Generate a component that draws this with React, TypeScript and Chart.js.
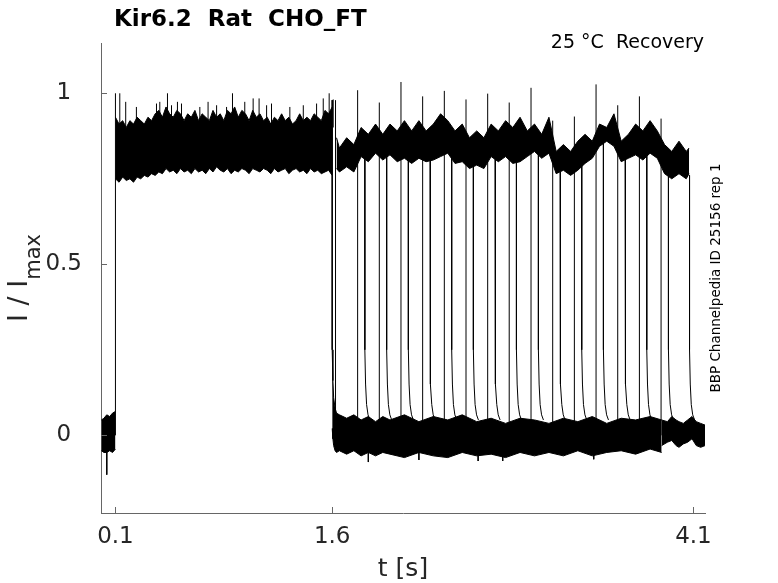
import { useEffect, useRef } from 'react';
import { Chart, registerables } from 'chart.js';

Chart.register(...registerables);

// current trace, normalised to I / Imax, time in s
// noisy stretches are kept as upper / lower envelopes

const preT = [0.003, 0.02, 0.04, 0.06, 0.08, 0.1];
const preHi = [0.045, 0.05, 0.06, 0.055, 0.065, 0.07];
const preLo = [-0.045, -0.05, -0.05, -0.045, -0.05, -0.04];

const openT = [
  0.1, 0.125, 0.15, 0.175, 0.2, 0.225, 0.25, 0.275, 0.3, 0.325,
  0.35, 0.375, 0.4, 0.425, 0.45, 0.475, 0.5, 0.525, 0.55, 0.575,
  0.6, 0.625, 0.65, 0.675, 0.7, 0.725, 0.75, 0.775, 0.8, 0.825,
  0.85, 0.875, 0.9, 0.925, 0.95, 0.975, 1.0, 1.025, 1.05, 1.075,
  1.1, 1.125, 1.15, 1.175, 1.2, 1.225, 1.25, 1.275, 1.3, 1.325,
  1.35, 1.375, 1.4, 1.425, 1.45, 1.475, 1.5, 1.525, 1.55, 1.575,
  1.6,
];
const openHi = [
  0.93, 0.91, 0.92, 0.9, 0.92, 0.91, 0.93, 0.92, 0.91, 0.93,
  0.92, 0.94, 0.95, 0.93, 0.96, 0.94, 0.93, 0.95, 0.94, 0.92,
  0.94, 0.93, 0.95, 0.92, 0.94, 0.93, 0.92, 0.95, 0.93, 0.94,
  0.92, 0.95, 0.94, 0.96, 0.93, 0.95, 0.94, 0.92, 0.95, 0.93,
  0.94, 0.92, 0.93, 0.91, 0.93, 0.92, 0.94, 0.92, 0.93, 0.91,
  0.92, 0.94, 0.92, 0.93, 0.92, 0.94, 0.93, 0.92, 0.95, 0.94,
  0.96,
];
const openLo = [
  0.75, 0.74, 0.755, 0.745, 0.75, 0.74, 0.755, 0.75, 0.76, 0.755,
  0.765, 0.76, 0.77, 0.765, 0.78, 0.77, 0.775, 0.765, 0.78, 0.77,
  0.775, 0.765, 0.78, 0.77, 0.775, 0.765, 0.78, 0.77, 0.785, 0.775,
  0.77, 0.78, 0.765, 0.775, 0.77, 0.78, 0.775, 0.765, 0.78, 0.775,
  0.77, 0.78, 0.775, 0.765, 0.78, 0.77, 0.775, 0.78, 0.765, 0.775,
  0.78, 0.77, 0.775, 0.765, 0.78, 0.77, 0.775, 0.765, 0.77, 0.775,
  0.76,
];

const upT = [
  1.63, 1.65, 1.7, 1.75, 1.8, 1.85, 1.9, 1.95, 2.0, 2.05,
  2.1, 2.15, 2.2, 2.25, 2.3, 2.35, 2.4, 2.45, 2.5, 2.55,
  2.6, 2.65, 2.7, 2.75, 2.8, 2.85, 2.9, 2.95, 3.0, 3.05,
  3.1, 3.15, 3.2, 3.25, 3.3, 3.35, 3.4, 3.45, 3.5, 3.55,
  3.6, 3.65, 3.7, 3.75, 3.8, 3.85, 3.9, 3.95, 4.0, 4.05,
  4.07,
];
const upHi = [
  0.87, 0.84, 0.87, 0.85, 0.9, 0.88, 0.91, 0.88, 0.91, 0.89,
  0.92, 0.89, 0.92, 0.89, 0.91, 0.94, 0.92, 0.89, 0.91, 0.87,
  0.89, 0.87, 0.91, 0.89, 0.92, 0.9, 0.93, 0.89, 0.91, 0.88,
  0.93, 0.83, 0.85, 0.83, 0.86, 0.88, 0.86, 0.91, 0.9, 0.94,
  0.86, 0.88, 0.91, 0.89, 0.92, 0.89, 0.85, 0.83, 0.86, 0.83,
  0.84,
];
const upLo = [
  0.78, 0.77, 0.785, 0.77, 0.815, 0.8, 0.825, 0.805, 0.82, 0.8,
  0.81, 0.795, 0.81, 0.8, 0.805, 0.815, 0.825, 0.795, 0.8, 0.78,
  0.79, 0.78, 0.815, 0.8, 0.815, 0.795, 0.8, 0.815, 0.83, 0.81,
  0.825, 0.765, 0.775, 0.76, 0.775, 0.795, 0.81, 0.845, 0.86, 0.845,
  0.8, 0.81, 0.82, 0.805, 0.825, 0.81, 0.765, 0.75, 0.765, 0.75,
  0.765,
];

const lowT = [
  1.6, 1.605, 1.61, 1.62, 1.63, 1.65, 1.7, 1.75, 1.8, 1.85,
  1.9, 1.95, 2.0, 2.1, 2.2, 2.3, 2.4, 2.5, 2.6, 2.7,
  2.8, 2.9, 3.0, 3.1, 3.2, 3.3, 3.4, 3.5, 3.6, 3.7,
  3.8, 3.88,
];
const lowHi = [
  0.25, 0.16, 0.11, 0.08, 0.065, 0.06, 0.05, 0.06, 0.045, 0.055,
  0.04, 0.055, 0.045, 0.06, 0.04, 0.055, 0.045, 0.06, 0.04, 0.05,
  0.035, 0.05, 0.045, 0.035, 0.05, 0.04, 0.055, 0.035, 0.05, 0.045,
  0.055, 0.045,
];
const lowLo = [
  0.02, -0.01, -0.03, -0.045, -0.05, -0.045, -0.055, -0.045, -0.06, -0.05,
  -0.06, -0.05, -0.055, -0.065, -0.05, -0.06, -0.065, -0.05, -0.06, -0.055,
  -0.065, -0.05, -0.06, -0.05, -0.06, -0.045, -0.06, -0.05, -0.045, -0.055,
  -0.04, -0.05,
];

const endT = [3.88, 3.92, 3.95, 3.98, 4.0, 4.03, 4.06, 4.09, 4.12, 4.15, 4.18];
const endHi = [0.045, 0.04, 0.055, 0.045, 0.04, 0.035, 0.045, 0.055, 0.04, 0.035, 0.03];
const endLo = [-0.03, -0.02, -0.015, -0.03, -0.035, -0.025, -0.02, -0.01, -0.03, -0.035, -0.03];

// step on and off of the long pulse
const stepT = [0.1, 1.6];
const stepFrom = [0.0, 0.98];
const stepTo = [1.0, 0.25];

// short noise spikes above the open level
const spikeT = [
  0.13, 0.171, 0.245, 0.384, 0.407, 0.46, 0.488, 0.529, 0.557, 0.684, 0.741, 0.8, 0.869,
  0.91, 0.995, 1.053, 1.094, 1.146, 1.18, 1.307, 1.4, 1.492, 1.538, 1.579, 1.607,
];
const spikePeak = [
  1.0, 0.975, 0.96, 0.97, 0.975, 1.0, 0.965, 0.975, 0.97, 0.96, 0.975, 0.965, 0.96,
  1.0, 0.975, 0.985, 0.985, 0.965, 0.97, 0.96, 0.965, 0.97, 0.985, 1.0, 0.982,
];

// dips below the closed level
const dipT = [0.04, 1.85, 2.2, 2.61, 2.78, 3.41];
const dipY = [-0.115, -0.078, -0.072, -0.075, -0.075, -0.07];

// recovery test pulses
const onsetT = [1.623, 1.776, 1.926, 2.076, 2.226, 2.376, 2.526, 2.676, 2.825, 2.976, 3.126, 3.276, 3.426, 3.576, 3.726, 3.876];
const onsetPeak = [0.98, 1.009, 0.973, 1.033, 0.991, 1.007, 0.982, 0.999, 0.973, 1.016, 0.92, 0.932, 1.026, 0.965, 0.991, 0.926];
const offsetT = [1.826, 1.977, 2.127, 2.277, 2.427, 2.577, 2.727, 2.875, 3.027, 3.177, 3.327, 3.477, 3.627, 3.777, 3.927, 4.073];
const offsetFrom = [0.82, 0.82, 0.81, 0.81, 0.81, 0.79, 0.82, 0.8, 0.83, 0.77, 0.8, 0.86, 0.81, 0.82, 0.76, 0.76];
// tail after each pulse end
const tailDt = [0, 0.005, 0.012, 0.022, 0.035];
const tailY = [0.25, 0.15, 0.09, 0.06, 0.045];

const xTicks = [0.1, 1.6, 4.1];
const yTicks = [0, 0.5, 1];

const AXIS = '#666666';
const TEXT = '#262626';
const FONT = '"DejaVu Sans", sans-serif';

const pts = (t: number[], v: number[]) => t.map((x, i) => ({ x, y: v[i] }));

const band = (t: number[], hi: number[], lo: number[]) => [
  { data: pts(t, hi), fill: '+1', borderColor: '#000', backgroundColor: '#000', borderWidth: 1 },
  { data: pts(t, lo), fill: false, borderColor: '#000', borderWidth: 1 },
];

const strokes = () => {
  const out: { x: number; y: number | null }[] = [];
  const seg = (p: { x: number; y: number }[]) => {
    out.push(...p, { x: p[p.length - 1].x, y: null });
  };
  stepT.forEach((t, i) => seg([{ x: t, y: stepFrom[i] }, { x: t, y: stepTo[i] }]));
  spikeT.forEach((t, i) => seg([{ x: t, y: 0.9 }, { x: t, y: spikePeak[i] }]));
  dipT.forEach((t, i) => seg([{ x: t, y: 0 }, { x: t, y: dipY[i] }]));
  onsetT.forEach((t, i) => seg([{ x: t, y: 0 }, { x: t, y: onsetPeak[i] }]));
  offsetT.forEach((t, i) =>
    seg([{ x: t, y: offsetFrom[i] }, ...tailDt.map((d, k) => ({ x: t + d, y: tailY[k] }))]),
  );
  return out;
};

const decor = {
  id: 'decor',
  afterDraw(chart: Chart) {
    const { ctx, chartArea: a } = chart;
    const x = chart.scales.x;
    const y = chart.scales.y;
    ctx.save();
    ctx.strokeStyle = AXIS;
    ctx.lineWidth = 1;
    ctx.beginPath();
    xTicks.forEach((v) => {
      const px = Math.round(x.getPixelForValue(v)) + 0.5;
      ctx.moveTo(px, a.bottom);
      ctx.lineTo(px, a.bottom - 6);
    });
    yTicks.forEach((v) => {
      const py = Math.round(y.getPixelForValue(v)) + 0.5;
      ctx.moveTo(a.left, py);
      ctx.lineTo(a.left + 6, py);
    });
    ctx.stroke();

    ctx.fillStyle = '#000';
    ctx.textBaseline = 'alphabetic';
    ctx.textAlign = 'left';
    ctx.font = `bold 23px ${FONT}`;
    ctx.fillText('Kir6.2  Rat  CHO_FT', 114, 26);

    ctx.textAlign = 'right';
    ctx.font = `19px ${FONT}`;
    ctx.fillText('25 °C  Recovery', 704, 48);

    ctx.fillStyle = TEXT;
    ctx.textAlign = 'center';
    ctx.font = `25px ${FONT}`;
    ctx.fillText('t [s]', (a.left + a.right) / 2, 576);

    // y title with subscript
    ctx.save();
    ctx.translate(27, 322);
    ctx.rotate(-Math.PI / 2);
    ctx.textAlign = 'left';
    ctx.font = `27px ${FONT}`;
    ctx.fillText('I / I', 0, 0);
    const w = ctx.measureText('I / I').width;
    ctx.font = `21px ${FONT}`;
    ctx.fillText('max', w, 13);
    ctx.restore();

    ctx.save();
    ctx.translate(720, (a.top + a.bottom) / 2);
    ctx.rotate(-Math.PI / 2);
    ctx.fillStyle = '#000';
    ctx.textAlign = 'center';
    ctx.font = `13.5px ${FONT}`;
    ctx.fillText('BBP Channelpedia ID 25156 rep 1', 0, 0);
    ctx.restore();
    ctx.restore();
  },
};

export default function App() {
  const canvasRef = useRef<HTMLCanvasElement>(null);

  useEffect(() => {
    const ctx = canvasRef.current!.getContext('2d')!;
    const chart = new Chart(ctx, {
      type: 'line',
      data: {
        datasets: [
          ...band(preT, preHi, preLo),
          ...band(openT, openHi, openLo),
          ...band(upT, upHi, upLo),
          ...band(lowT, lowHi, lowLo),
          ...band(endT, endHi, endLo),
          { data: strokes(), fill: false, borderColor: '#000', borderWidth: 1, spanGaps: false },
        ] as any,
      },
      options: {
        animation: false,
        responsive: true,
        maintainAspectRatio: false,
        layout: { padding: { left: 0, top: 43, right: 73, bottom: 0 } },
        elements: { point: { radius: 0, hoverRadius: 0 }, line: { tension: 0 } },
        plugins: { legend: { display: false }, tooltip: { enabled: false } },
        events: [],
        scales: {
          x: {
            type: 'linear',
            min: 0,
            max: 4.18,
            grid: { display: false, drawTicks: false },
            border: { display: true, color: AXIS, width: 1 },
            afterBuildTicks: (s: any) => {
              s.ticks = xTicks.map((value) => ({ value }));
            },
            afterFit: (s: any) => {
              s.height = 70;
            },
            ticks: {
              color: TEXT,
              font: { family: FONT, size: 23 },
              padding: 10,
              maxRotation: 0,
              autoSkip: false,
              callback: (v: any) => String(v),
            },
          },
          y: {
            type: 'linear',
            min: -0.227,
            max: 1.147,
            grid: { display: false, drawTicks: false },
            border: { display: true, color: AXIS, width: 1 },
            afterBuildTicks: (s: any) => {
              s.ticks = yTicks.map((value) => ({ value }));
            },
            afterFit: (s: any) => {
              s.width = 101;
            },
            ticks: {
              color: TEXT,
              font: { family: FONT, size: 23 },
              padding: 19,
              crossAlign: 'center',
              callback: (v: any) => String(v),
            },
          },
        },
      },
      plugins: [decor],
    });
    return () => {
      chart.destroy();
    };
  }, []);

  return (
    <div style={{ position: 'fixed', left: 0, top: 0, width: 778, height: 583, background: '#fff' }}>
      <canvas ref={canvasRef} />
    </div>
  );
}
